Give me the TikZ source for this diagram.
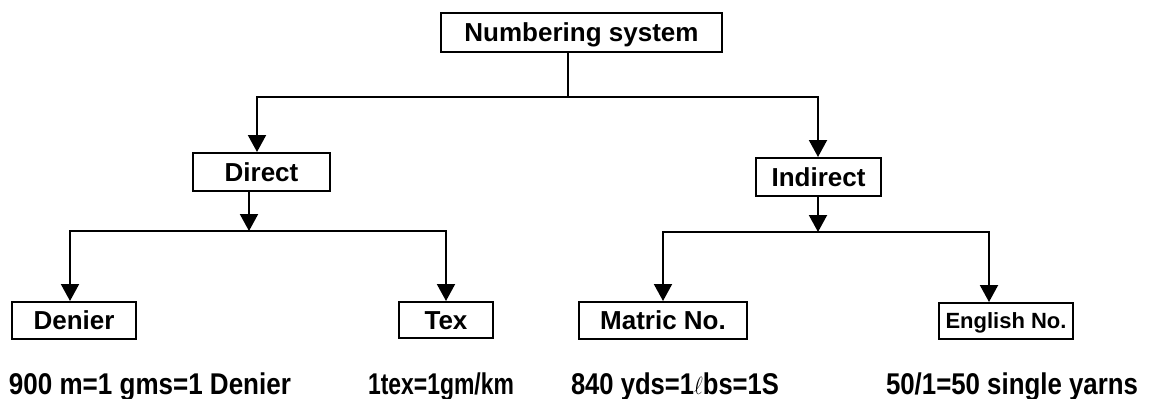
\documentclass[tikz,border=0pt]{standalone}
\usepackage{fontspec}
\setmainfont{Liberation Sans}
\usetikzlibrary{arrows.meta}
\begin{document}
\begin{tikzpicture}[x=1pt,y=-1pt,
  box/.style={draw,line width=2pt,inner sep=0pt,font=\fontsize{26}{30}\selectfont\bfseries,
    minimum height=38pt,text height=18.7pt,text depth=0pt},
  conn/.style={line width=2pt},
  arr/.style={conn,-{Triangle[width=18pt,length=17pt]}},
  eq/.style={font=\fontsize{30}{34}\selectfont\bfseries,inner sep=0pt,anchor=base}]
\useasboundingbox (0,0) rectangle (1149,399);
\node[box,minimum width=281pt,minimum height=39pt] (ns) at (581.5,32.5) {Numbering system};
\node[box,minimum width=137pt] (dir) at (261.5,172) {Direct};
\node[box,minimum width=125pt] (ind) at (818.5,177) {Indirect};
\node[box,minimum width=124pt,minimum height=37pt] (den) at (74,320.5) {Denier};
\node[box,minimum width=94pt,minimum height=36pt] (tex) at (446,320) {Tex};
\node[box,minimum width=168pt,minimum height=37pt] (met) at (663,320.5) {Matric No.};
\node[box,minimum width=134pt,minimum height=36pt,font=\fontsize{22}{26}\selectfont\bfseries,text height=15.8pt] (eng) at (1006,321) {English No.};
% top level
\coordinate (j1) at (568,97);
\coordinate (j1l) at (257,97);
\coordinate (j1r) at (818,97);
\draw[conn] (ns.south -| j1) -- (j1);
\draw[arr] (j1) -- (j1l) -- (dir.north -| j1l);
\draw[arr] (j1) -- (j1r) -- (ind.north -| j1r);
% direct
\coordinate (j2) at (249,231);
\coordinate (j2l) at (70,231);
\coordinate (j2r) at (446,231);
\draw[arr] (dir.south -| j2) -- (j2);
\draw[arr] (j2) -- (j2l) -- (den.north -| j2l);
\draw[arr] (j2) -- (j2r) -- (tex.north -| j2r);
% indirect
\coordinate (j3) at (818,232);
\coordinate (j3l) at (663,232);
\coordinate (j3r) at (989,232);
\draw[arr] (ind.south -| j3) -- (j3);
\draw[arr] (j3) -- (j3l) -- (met.north -| j3l);
\draw[arr] (j3) -- (j3r) -- (eng.north -| j3r);
% formulas
\node[eq] (t1) at (150,394) {\resizebox{282pt}{\height}{900 m=1 gms=1 Denier}};
\node[eq] (t2) at (441,394) {\resizebox{146pt}{\height}{1tex=1gm/km}};
\node[eq] (t3) at (675,394) {\resizebox{208pt}{\height}{840 yds=1$\ell$bs=1S}};
\node[eq] (t4) at (1012,394) {\resizebox{252pt}{\height}{50/1=50 single yarns}};
\end{tikzpicture}
\end{document}
